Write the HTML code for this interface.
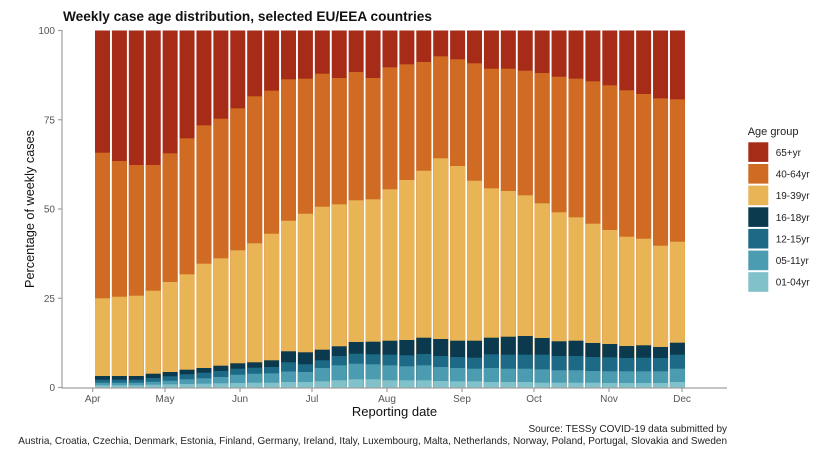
<!DOCTYPE html>
<html><head><meta charset="utf-8"><style>
html,body{margin:0;padding:0;background:#fff;width:825px;height:455px;overflow:hidden;}
svg{display:block;}
.a{fill:#a62c18}.b{fill:#cf6b23}.c{fill:#e8b455}.d{fill:#0b3a4f}.e{fill:#1d6a86}.f{fill:#4b9cb1}.g{fill:#80c1ca}
text{font-family:"Liberation Sans",Arial,sans-serif;}
.tk{font-size:10px;fill:#555;}
.lg{font-size:10px;fill:#222;}
</style></head><body>
<svg width="825" height="455" viewBox="0 0 825 455" xmlns="http://www.w3.org/2000/svg">
<rect width="825" height="455" fill="#fff"/>
<g>
<g transform="translate(95,0)"><rect class="a" width="15" y="30.5" height="357"/><rect class="b" width="15" y="152.7" height="234.8"/><rect class="c" width="15" y="298.3" height="89.2"/><rect class="d" width="15" y="376" height="11.5"/><rect class="e" width="15" y="379.7" height="7.8"/><rect class="f" width="15" y="382.7" height="4.8"/><rect class="g" width="15" y="385.3" height="2.2"/></g>
<g transform="translate(111.91,0)"><rect class="a" width="15" y="30.5" height="357"/><rect class="b" width="15" y="161" height="226.5"/><rect class="c" width="15" y="296.7" height="90.8"/><rect class="d" width="15" y="376" height="11.5"/><rect class="e" width="15" y="379.7" height="7.8"/><rect class="f" width="15" y="382.7" height="4.8"/><rect class="g" width="15" y="385.3" height="2.2"/></g>
<g transform="translate(128.82,0)"><rect class="a" width="15" y="30.5" height="357"/><rect class="b" width="15" y="165" height="222.5"/><rect class="c" width="15" y="295.7" height="91.8"/><rect class="d" width="15" y="376" height="11.5"/><rect class="e" width="15" y="379.7" height="7.8"/><rect class="f" width="15" y="382.7" height="4.8"/><rect class="g" width="15" y="385.3" height="2.2"/></g>
<g transform="translate(145.73,0)"><rect class="a" width="15" y="30.5" height="357"/><rect class="b" width="15" y="165" height="222.5"/><rect class="c" width="15" y="290.7" height="96.8"/><rect class="d" width="15" y="373.7" height="13.8"/><rect class="e" width="15" y="378" height="9.5"/><rect class="f" width="15" y="381.7" height="5.8"/><rect class="g" width="15" y="384.7" height="2.8"/></g>
<g transform="translate(162.64,0)"><rect class="a" width="15" y="30.5" height="357"/><rect class="b" width="15" y="153.3" height="234.2"/><rect class="c" width="15" y="282" height="105.5"/><rect class="d" width="15" y="372" height="15.5"/><rect class="e" width="15" y="376.3" height="11.2"/><rect class="f" width="15" y="380.7" height="6.8"/><rect class="g" width="15" y="384.3" height="3.2"/></g>
<g transform="translate(179.55,0)"><rect class="a" width="15" y="30.5" height="357"/><rect class="b" width="15" y="138.3" height="249.2"/><rect class="c" width="15" y="274.3" height="113.2"/><rect class="d" width="15" y="369.7" height="17.8"/><rect class="e" width="15" y="374.3" height="13.2"/><rect class="f" width="15" y="379.3" height="8.2"/><rect class="g" width="15" y="384" height="3.5"/></g>
<g transform="translate(196.46,0)"><rect class="a" width="15" y="30.5" height="357"/><rect class="b" width="15" y="125.3" height="262.2"/><rect class="c" width="15" y="263.7" height="123.8"/><rect class="d" width="15" y="368" height="19.5"/><rect class="e" width="15" y="372.7" height="14.8"/><rect class="f" width="15" y="378.3" height="9.2"/><rect class="g" width="15" y="383.7" height="3.8"/></g>
<g transform="translate(213.37,0)"><rect class="a" width="15" y="30.5" height="357"/><rect class="b" width="15" y="118.7" height="268.8"/><rect class="c" width="15" y="258.3" height="129.2"/><rect class="d" width="15" y="365.7" height="21.8"/><rect class="e" width="15" y="371" height="16.5"/><rect class="f" width="15" y="377" height="10.5"/><rect class="g" width="15" y="383.3" height="4.2"/></g>
<g transform="translate(230.28,0)"><rect class="a" width="15" y="30.5" height="357"/><rect class="b" width="15" y="108.3" height="279.2"/><rect class="c" width="15" y="250.3" height="137.2"/><rect class="d" width="15" y="363.3" height="24.2"/><rect class="e" width="15" y="368.7" height="18.8"/><rect class="f" width="15" y="374.7" height="12.8"/><rect class="g" width="15" y="383" height="4.5"/></g>
<g transform="translate(247.19,0)"><rect class="a" width="15" y="30.5" height="357"/><rect class="b" width="15" y="96.3" height="291.2"/><rect class="c" width="15" y="243.3" height="144.2"/><rect class="d" width="15" y="362.3" height="25.2"/><rect class="e" width="15" y="367.7" height="19.8"/><rect class="f" width="15" y="373.7" height="13.8"/><rect class="g" width="15" y="382.7" height="4.8"/></g>
<g transform="translate(264.1,0)"><rect class="a" width="15" y="30.5" height="357"/><rect class="b" width="15" y="90.7" height="296.8"/><rect class="c" width="15" y="233.7" height="153.8"/><rect class="d" width="15" y="360.3" height="27.2"/><rect class="e" width="15" y="367" height="20.5"/><rect class="f" width="15" y="373.3" height="14.2"/><rect class="g" width="15" y="382.7" height="4.8"/></g>
<g transform="translate(281.01,0)"><rect class="a" width="15" y="30.5" height="357"/><rect class="b" width="15" y="79.3" height="308.2"/><rect class="c" width="15" y="220.7" height="166.8"/><rect class="d" width="15" y="351.3" height="36.2"/><rect class="e" width="15" y="362.3" height="25.2"/><rect class="f" width="15" y="371.5" height="16"/><rect class="g" width="15" y="382" height="5.5"/></g>
<g transform="translate(297.92,0)"><rect class="a" width="15" y="30.5" height="357"/><rect class="b" width="15" y="78.7" height="308.8"/><rect class="c" width="15" y="213.7" height="173.8"/><rect class="d" width="15" y="352.3" height="35.2"/><rect class="e" width="15" y="364.3" height="23.2"/><rect class="f" width="15" y="372" height="15.5"/><rect class="g" width="15" y="382" height="5.5"/></g>
<g transform="translate(314.83,0)"><rect class="a" width="15" y="30.5" height="357"/><rect class="b" width="15" y="73.7" height="313.8"/><rect class="c" width="15" y="206.7" height="180.8"/><rect class="d" width="15" y="349.7" height="37.8"/><rect class="e" width="15" y="360.3" height="27.2"/><rect class="f" width="15" y="368" height="19.5"/><rect class="g" width="15" y="381.3" height="6.2"/></g>
<g transform="translate(331.74,0)"><rect class="a" width="15" y="30.5" height="357"/><rect class="b" width="15" y="78" height="309.5"/><rect class="c" width="15" y="204.3" height="183.2"/><rect class="d" width="15" y="346.3" height="41.2"/><rect class="e" width="15" y="356" height="31.5"/><rect class="f" width="15" y="365.3" height="22.2"/><rect class="g" width="15" y="380.3" height="7.2"/></g>
<g transform="translate(348.65,0)"><rect class="a" width="15" y="30.5" height="357"/><rect class="b" width="15" y="72" height="315.5"/><rect class="c" width="15" y="200.3" height="187.2"/><rect class="d" width="15" y="342" height="45.5"/><rect class="e" width="15" y="353.7" height="33.8"/><rect class="f" width="15" y="363.7" height="23.8"/><rect class="g" width="15" y="379.3" height="8.2"/></g>
<g transform="translate(365.56,0)"><rect class="a" width="15" y="30.5" height="357"/><rect class="b" width="15" y="78" height="309.5"/><rect class="c" width="15" y="199.3" height="188.2"/><rect class="d" width="15" y="341.7" height="45.8"/><rect class="e" width="15" y="354.3" height="33.2"/><rect class="f" width="15" y="364.3" height="23.2"/><rect class="g" width="15" y="379.3" height="8.2"/></g>
<g transform="translate(382.47,0)"><rect class="a" width="15" y="30.5" height="357"/><rect class="b" width="15" y="67.3" height="320.2"/><rect class="c" width="15" y="189.3" height="198.2"/><rect class="d" width="15" y="340.7" height="46.8"/><rect class="e" width="15" y="354.7" height="32.8"/><rect class="f" width="15" y="365.3" height="22.2"/><rect class="g" width="15" y="380.3" height="7.2"/></g>
<g transform="translate(399.38,0)"><rect class="a" width="15" y="30.5" height="357"/><rect class="b" width="15" y="64.3" height="323.2"/><rect class="c" width="15" y="180" height="207.5"/><rect class="d" width="15" y="340" height="47.5"/><rect class="e" width="15" y="355.3" height="32.2"/><rect class="f" width="15" y="366.3" height="21.2"/><rect class="g" width="15" y="380.3" height="7.2"/></g>
<g transform="translate(416.29,0)"><rect class="a" width="15" y="30.5" height="357"/><rect class="b" width="15" y="62" height="325.5"/><rect class="c" width="15" y="170.7" height="216.8"/><rect class="d" width="15" y="337.7" height="49.8"/><rect class="e" width="15" y="354" height="33.5"/><rect class="f" width="15" y="365.3" height="22.2"/><rect class="g" width="15" y="380.3" height="7.2"/></g>
<g transform="translate(433.2,0)"><rect class="a" width="15" y="30.5" height="357"/><rect class="b" width="15" y="56.3" height="331.2"/><rect class="c" width="15" y="158.3" height="229.2"/><rect class="d" width="15" y="339" height="48.5"/><rect class="e" width="15" y="356" height="31.5"/><rect class="f" width="15" y="367" height="20.5"/><rect class="g" width="15" y="381" height="6.5"/></g>
<g transform="translate(450.11,0)"><rect class="a" width="15" y="30.5" height="357"/><rect class="b" width="15" y="59.3" height="328.2"/><rect class="c" width="15" y="166" height="221.5"/><rect class="d" width="15" y="340.7" height="46.8"/><rect class="e" width="15" y="357" height="30.5"/><rect class="f" width="15" y="368" height="19.5"/><rect class="g" width="15" y="381.3" height="6.2"/></g>
<g transform="translate(467.02,0)"><rect class="a" width="15" y="30.5" height="357"/><rect class="b" width="15" y="63.3" height="324.2"/><rect class="c" width="15" y="180.7" height="206.8"/><rect class="d" width="15" y="340.7" height="46.8"/><rect class="e" width="15" y="357.7" height="29.8"/><rect class="f" width="15" y="368.7" height="18.8"/><rect class="g" width="15" y="381.3" height="6.2"/></g>
<g transform="translate(483.93,0)"><rect class="a" width="15" y="30.5" height="357"/><rect class="b" width="15" y="68.7" height="318.8"/><rect class="c" width="15" y="188.3" height="199.2"/><rect class="d" width="15" y="337.7" height="49.8"/><rect class="e" width="15" y="354.3" height="33.2"/><rect class="f" width="15" y="368" height="19.5"/><rect class="g" width="15" y="382" height="5.5"/></g>
<g transform="translate(500.84,0)"><rect class="a" width="15" y="30.5" height="357"/><rect class="b" width="15" y="68.7" height="318.8"/><rect class="c" width="15" y="191" height="196.5"/><rect class="d" width="15" y="336.7" height="50.8"/><rect class="e" width="15" y="354.7" height="32.8"/><rect class="f" width="15" y="368.7" height="18.8"/><rect class="g" width="15" y="382" height="5.5"/></g>
<g transform="translate(517.75,0)"><rect class="a" width="15" y="30.5" height="357"/><rect class="b" width="15" y="70.7" height="316.8"/><rect class="c" width="15" y="195.3" height="192.2"/><rect class="d" width="15" y="336" height="51.5"/><rect class="e" width="15" y="354.7" height="32.8"/><rect class="f" width="15" y="368.7" height="18.8"/><rect class="g" width="15" y="382" height="5.5"/></g>
<g transform="translate(534.66,0)"><rect class="a" width="15" y="30.5" height="357"/><rect class="b" width="15" y="73" height="314.5"/><rect class="c" width="15" y="203.3" height="184.2"/><rect class="d" width="15" y="338" height="49.5"/><rect class="e" width="15" y="354.7" height="32.8"/><rect class="f" width="15" y="369.3" height="18.2"/><rect class="g" width="15" y="382.7" height="4.8"/></g>
<g transform="translate(551.57,0)"><rect class="a" width="15" y="30.5" height="357"/><rect class="b" width="15" y="76.7" height="310.8"/><rect class="c" width="15" y="212.3" height="175.2"/><rect class="d" width="15" y="341.3" height="46.2"/><rect class="e" width="15" y="356" height="31.5"/><rect class="f" width="15" y="370.3" height="17.2"/><rect class="g" width="15" y="382.7" height="4.8"/></g>
<g transform="translate(568.48,0)"><rect class="a" width="15" y="30.5" height="357"/><rect class="b" width="15" y="78.7" height="308.8"/><rect class="c" width="15" y="217.3" height="170.2"/><rect class="d" width="15" y="340.7" height="46.8"/><rect class="e" width="15" y="356" height="31.5"/><rect class="f" width="15" y="370.3" height="17.2"/><rect class="g" width="15" y="382.7" height="4.8"/></g>
<g transform="translate(585.39,0)"><rect class="a" width="15" y="30.5" height="357"/><rect class="b" width="15" y="81.3" height="306.2"/><rect class="c" width="15" y="223.7" height="163.8"/><rect class="d" width="15" y="343" height="44.5"/><rect class="e" width="15" y="357" height="30.5"/><rect class="f" width="15" y="371" height="16.5"/><rect class="g" width="15" y="382.7" height="4.8"/></g>
<g transform="translate(602.3,0)"><rect class="a" width="15" y="30.5" height="357"/><rect class="b" width="15" y="85.3" height="302.2"/><rect class="c" width="15" y="230" height="157.5"/><rect class="d" width="15" y="344" height="43.5"/><rect class="e" width="15" y="357.3" height="30.2"/><rect class="f" width="15" y="371.3" height="16.2"/><rect class="g" width="15" y="383" height="4.5"/></g>
<g transform="translate(619.21,0)"><rect class="a" width="15" y="30.5" height="357"/><rect class="b" width="15" y="90.3" height="297.2"/><rect class="c" width="15" y="236.7" height="150.8"/><rect class="d" width="15" y="346" height="41.5"/><rect class="e" width="15" y="358" height="29.5"/><rect class="f" width="15" y="371.3" height="16.2"/><rect class="g" width="15" y="383" height="4.5"/></g>
<g transform="translate(636.12,0)"><rect class="a" width="15" y="30.5" height="357"/><rect class="b" width="15" y="94" height="293.5"/><rect class="c" width="15" y="238.7" height="148.8"/><rect class="d" width="15" y="345.3" height="42.2"/><rect class="e" width="15" y="357.7" height="29.8"/><rect class="f" width="15" y="371.3" height="16.2"/><rect class="g" width="15" y="383" height="4.5"/></g>
<g transform="translate(653.03,0)"><rect class="a" width="15" y="30.5" height="357"/><rect class="b" width="15" y="98.3" height="289.2"/><rect class="c" width="15" y="245.7" height="141.8"/><rect class="d" width="15" y="347" height="40.5"/><rect class="e" width="15" y="358" height="29.5"/><rect class="f" width="15" y="371.3" height="16.2"/><rect class="g" width="15" y="383" height="4.5"/></g>
<g transform="translate(669.94,0)"><rect class="a" width="15" y="30.5" height="357"/><rect class="b" width="15" y="99.3" height="288.2"/><rect class="c" width="15" y="241.7" height="145.8"/><rect class="d" width="15" y="342.7" height="44.8"/><rect class="e" width="15" y="354.7" height="32.8"/><rect class="f" width="15" y="368.7" height="18.8"/><rect class="g" width="15" y="382" height="5.5"/></g>
</g>
<g stroke="#a0a0a0" stroke-width="1.2" fill="none">
<line x1="62" y1="30" x2="62" y2="388"/>
<line x1="61.4" y1="388" x2="727" y2="388"/>
<line x1="58" y1="30.5" x2="62" y2="30.5"/>
<line x1="58" y1="119.75" x2="62" y2="119.75"/>
<line x1="58" y1="209" x2="62" y2="209"/>
<line x1="58" y1="298.25" x2="62" y2="298.25"/>
<line x1="58" y1="387.5" x2="62" y2="387.5"/>
<line x1="92.7" y1="388" x2="92.7" y2="392"/>
<line x1="165" y1="388" x2="165" y2="392"/>
<line x1="240" y1="388" x2="240" y2="392"/>
<line x1="312" y1="388" x2="312" y2="392"/>
<line x1="387" y1="388" x2="387" y2="392"/>
<line x1="462" y1="388" x2="462" y2="392"/>
<line x1="534" y1="388" x2="534" y2="392"/>
<line x1="609" y1="388" x2="609" y2="392"/>
<line x1="682" y1="388" x2="682" y2="392"/>
</g>
<g class="tk" text-anchor="end">
<text x="55" y="34">100</text>
<text x="55" y="123.3">75</text>
<text x="55" y="212.5">50</text>
<text x="55" y="301.8">25</text>
<text x="55" y="391">0</text>
</g>
<g class="tk" text-anchor="middle">
<text x="92.7" y="402">Apr</text>
<text x="165" y="402">May</text>
<text x="240" y="402">Jun</text>
<text x="312" y="402">Jul</text>
<text x="387" y="402">Aug</text>
<text x="462" y="402">Sep</text>
<text x="534" y="402">Oct</text>
<text x="609" y="402">Nov</text>
<text x="682" y="402">Dec</text>
</g>
<text x="394.5" y="416" text-anchor="middle" font-size="13" fill="#111">Reporting date</text>
<text transform="translate(34,209) rotate(-90)" text-anchor="middle" font-size="13" fill="#111" textLength="158" lengthAdjust="spacingAndGlyphs">Percentage of weekly cases</text>
<text x="63" y="21" font-size="13.5" font-weight="bold" fill="#111" textLength="369" lengthAdjust="spacingAndGlyphs">Weekly case age distribution, selected EU/EEA countries</text>
<text x="528.5" y="432" font-size="10.5" fill="#222" textLength="198.5" lengthAdjust="spacingAndGlyphs">Source: TESSy COVID-19 data submitted by</text>
<text x="18.3" y="444" font-size="10.5" fill="#222" textLength="708.7" lengthAdjust="spacingAndGlyphs">Austria, Croatia, Czechia, Denmark, Estonia, Finland, Germany, Ireland, Italy, Luxembourg, Malta, Netherlands, Norway, Poland, Portugal, Slovakia and Sweden</text>
<text x="747.7" y="135" font-size="11" fill="#222">Age group</text>
<rect class="a" x="748.3" y="142.3" width="20" height="19.6"/>
<rect class="b" x="748.3" y="164" width="20" height="19.6"/>
<rect class="c" x="748.3" y="185.6" width="20" height="19.6"/>
<rect class="d" x="748.3" y="207.3" width="20" height="19.6"/>
<rect class="e" x="748.3" y="228.9" width="20" height="19.6"/>
<rect class="f" x="748.3" y="250.6" width="20" height="19.6"/>
<rect class="g" x="748.3" y="272.2" width="20" height="19.6"/>
<g class="lg">
<text x="775.7" y="155.8">65+yr</text>
<text x="775.7" y="177.5">40-64yr</text>
<text x="775.7" y="199.1">19-39yr</text>
<text x="775.7" y="220.8">16-18yr</text>
<text x="775.7" y="242.4">12-15yr</text>
<text x="775.7" y="264.1">05-11yr</text>
<text x="775.7" y="285.7">01-04yr</text>
</g>
</svg>
</body></html>
